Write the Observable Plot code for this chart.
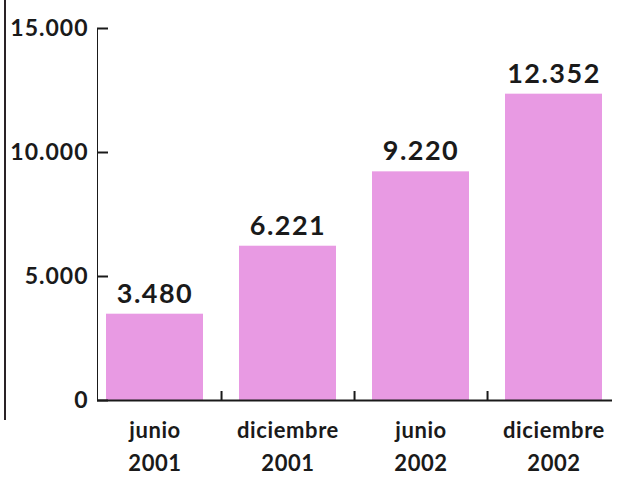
<!DOCTYPE html>
<html>
<head>
<meta charset="utf-8">
<script src="https://cdn.jsdelivr.net/npm/d3@7"></script>
<script src="https://cdn.jsdelivr.net/npm/@observablehq/plot@0.6"></script>
<style>
  html, body { margin: 0; padding: 0; background: #fff; }
  #wrap { position: relative; width: 618px; height: 477px; }
  #edge { position: absolute; left: 4px; top: 0; width: 2px; height: 420px; background: #2a2326; }
</style>
</head>
<body>
<div id="wrap"><div id="edge"></div></div>
<script>
const categories = ["jun2001", "dic2001", "jun2002", "dic2002"];
const months = ["junio", "diciembre", "junio", "diciembre"];
const years = ["2001", "2001", "2002", "2002"];
const values = [3480, 6221, 9220, 12352];
const yTicks = [0, 5000, 10000, 15000];

const data = categories.map((c, i) => ({cat: c, month: months[i], year: years[i], value: values[i]}));
const fmt = d => d3.format(",")(d).replace(/,/g, ".");

const W = 618, H = 477, mL = 97, mR = 6, mT = 28, mB = 77;
const pI = 0.27, pO = 0.07;
const step = (W - mL - mR) / (categories.length - pI + 2 * pO);
const tickLen = 11;
const font = "Lato, 'Open Sans', sans-serif";
const ink = "#1a1a1a";

const chart = Plot.plot({
  width: W,
  height: H,
  marginLeft: mL,
  marginRight: mR,
  marginTop: mT,
  marginBottom: mB,
  style: {fontFamily: font, fontSize: "23px", fontWeight: "bold", color: ink, background: "transparent"},
  x: {domain: categories, paddingInner: pI, paddingOuter: pO, axis: null},
  y: {domain: [0, 15000], ticks: yTicks, tickFormat: fmt, tickSize: 0, tickPadding: 9, line: true, label: null},
  marks: [
    Plot.barY(data, {x: "cat", y: "value", fill: "#e89ae3"}),
    Plot.ruleY([0], {stroke: ink, strokeWidth: 2}),
    Plot.tickY(yTicks, {y: d => d, insetRight: W - mL - mR - tickLen, stroke: ink, strokeWidth: 2}),
    Plot.ruleX(data, {x: "cat", y1: 0, y2: 0, insetTop: -9, dx: step / 2, stroke: ink, strokeWidth: 2}),
    Plot.text(data, {x: "cat", y: "value", text: d => fmt(d.value), dy: -20, fontSize: 27, fontWeight: "bold", fill: ink}),
    Plot.text(data, {x: "cat", y: 0, text: "month", dy: 30, fontSize: 22, fontWeight: "bold", fill: ink}),
    Plot.text(data, {x: "cat", y: 0, text: "year", dy: 63, fontSize: 22, fontWeight: "bold", fill: ink})
  ]
});
chart.style.position = "absolute";
chart.style.left = "0";
chart.style.top = "0";
const textGroups = d3.select(chart).selectAll('g[aria-label="text"]').nodes();
if (textGroups[0]) d3.select(textGroups[0]).attr("letter-spacing", "1.5px");
if (textGroups[1]) d3.select(textGroups[1]).attr("letter-spacing", "0.6px");
if (textGroups[2]) d3.select(textGroups[2]).attr("letter-spacing", "0.6px");
d3.select(chart).selectAll('g[aria-label="y-axis tick label"], g[aria-label="y-axis"] text').attr("letter-spacing", "1px");
document.getElementById("wrap").appendChild(chart);
</script>
</body>
</html>
